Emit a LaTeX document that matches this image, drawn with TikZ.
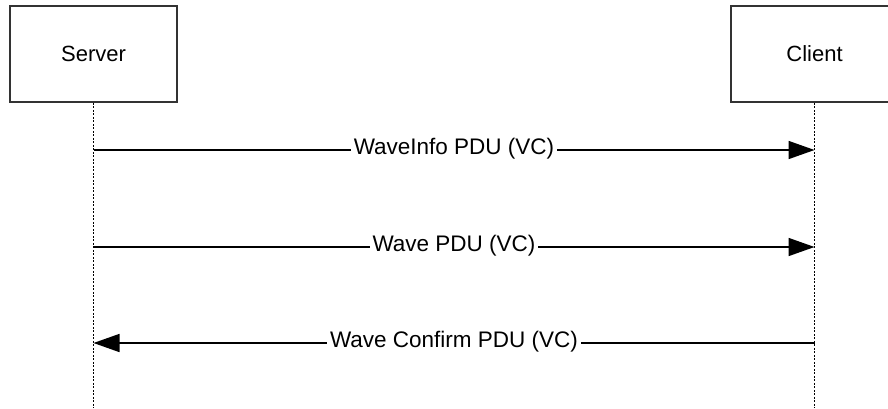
\documentclass[tikz,border=0pt]{standalone}
\usepackage{fontspec}
\setmainfont{Liberation Sans}
\usetikzlibrary{arrows.meta, positioning}
\definecolor{mdark}{HTML}{333333}
\tikzstyle{actor} = [rectangle, draw=mdark, line width=1.6pt, fill=white, minimum width=167pt, minimum height=96pt, font=\fontsize{22}{26}\selectfont]
\tikzstyle{lifeline} = [line width=1.8pt, dash pattern=on 2pt off 1.5pt]
\tikzstyle{msg} = [line width=1.6pt, -{Triangle[length=26pt,width=18pt]}]
\tikzstyle{msglabel} = [fill=white, inner xsep=3pt, inner ysep=1pt, yshift=1pt, font=\fontsize{22.5}{26}\selectfont]

\begin{document}
\begin{tikzpicture}[x=1pt, y=-1pt]
\useasboundingbox (0,0) rectangle (888,408);
\node (server) [actor] at (93.5,54) {Server};
\node (client) [actor] at (814.5,54) {Client};
\coordinate (sEnd) at (93.5,408);
\coordinate (cEnd) at (814.5,408);
\draw [lifeline] (server.south) -- (sEnd);
\draw [lifeline] (client.south) -- (cEnd);
\coordinate (s1) at (93.5,150);
\coordinate (c1) at (814.5,150);
\coordinate (s2) at (93.5,247);
\coordinate (c2) at (814.5,247);
\coordinate (s3) at (93.5,343);
\coordinate (c3) at (814.5,343);
\draw [msg] (s1) -- node[msglabel]{WaveInfo PDU (VC)} (c1);
\draw [msg] (s2) -- node[msglabel]{Wave PDU (VC)} (c2);
\draw [msg] (c3) -- node[msglabel]{Wave Confirm PDU (VC)} (s3);
\end{tikzpicture}
\end{document}
